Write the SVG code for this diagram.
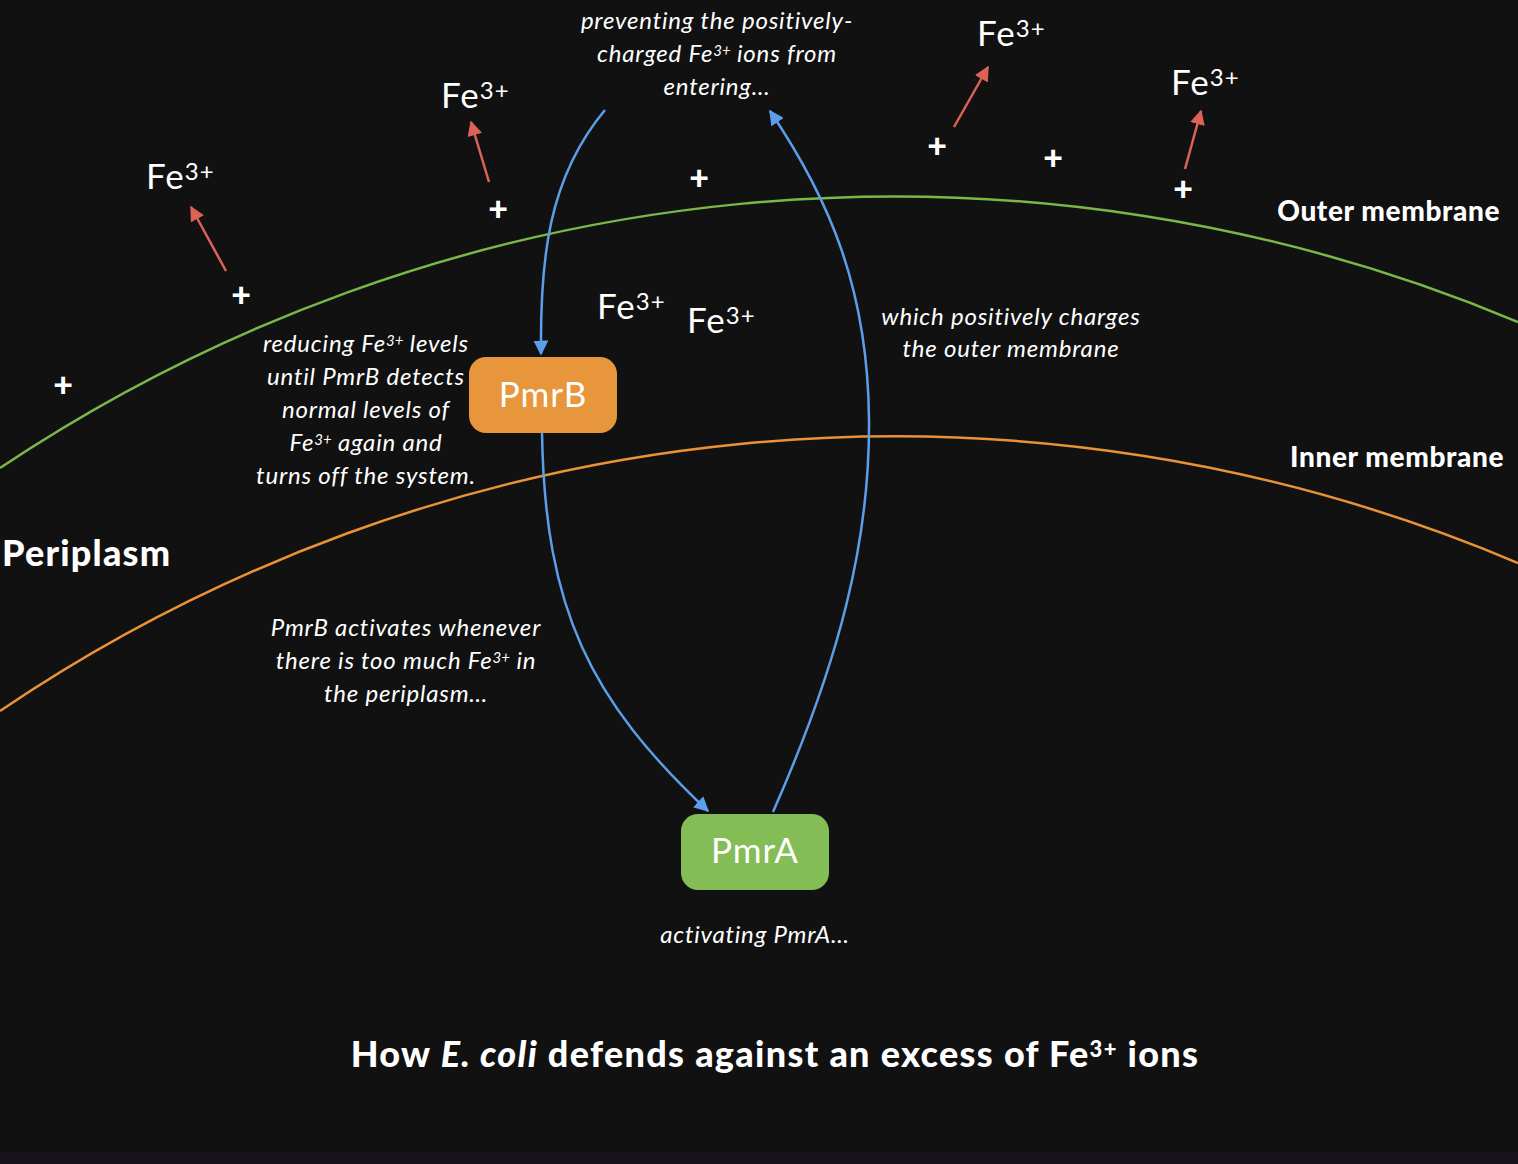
<svg xmlns="http://www.w3.org/2000/svg" width="1518" height="1164" viewBox="0 0 1518 1164">
<style>
.bg{fill:#111111}
.mem{fill:none;stroke-width:2.5}
.note{font-family:Lato,"Noto Sans",sans-serif;font-style:italic;font-size:24px;letter-spacing:0.8px;fill:#ffffff;text-anchor:middle}
.sup{font-size:15px;letter-spacing:0}
.fe{font-family:Lato,"Noto Sans",sans-serif;font-size:35px;letter-spacing:1px;fill:#ffffff}
.fesup{font-size:24px}
.plus{font-family:Lato,"Noto Sans",sans-serif;font-weight:900;font-size:34px;fill:#ffffff;text-anchor:middle}
.lbl{font-family:Lato,"Noto Sans",sans-serif;font-weight:900;font-size:28px;letter-spacing:0.6px;fill:#ffffff}
.big{font-size:36px;letter-spacing:1.2px}
.title{font-size:36px;letter-spacing:1.3px}
.node text{font-family:Lato,"Noto Sans",sans-serif;font-size:35px;letter-spacing:1px;fill:#ffffff;text-anchor:middle}
.blue{fill:none;stroke:#5b9ee9;stroke-width:2.5;marker-end:url(#ab)}
.red{fill:none;stroke:#dc6257;stroke-width:2.5;marker-end:url(#ar)}
</style>
<defs>
<marker id="ab" viewBox="0 0 10 10" refX="9" refY="5" markerWidth="6" markerHeight="6" orient="auto" markerUnits="strokeWidth"><path d="M0,0 L10,5 L0,10 z" fill="#5b9ee9"/></marker>
<marker id="ar" viewBox="0 0 10 10" refX="9" refY="5" markerWidth="6" markerHeight="6" orient="auto" markerUnits="strokeWidth"><path d="M0,0 L10,5 L0,10 z" fill="#dc6257"/></marker>
</defs>
<rect class="bg" x="0" y="0" width="1518" height="1164"/>
<rect x="0" y="1152" width="1518" height="12" fill="#16131c"/>

<g id="membranes">
<path class="mem" stroke="#7ab648" d="M0 468 A1610 1610 0 0 1 1518 322"/>
<path class="mem" stroke="#ea9236" d="M0 711 A1596 1596 0 0 1 1518 563"/>
</g>

<g id="connectors">
<path class="blue" d="M605 110 C548 178 540 260 541 354"/>
<path class="blue" d="M542 433 C545 610 590 700 708 811"/>
<path class="blue" d="M773 812 C840 660 870 540 869 420 C868 290 830 200 770 111"/>
<path class="red" d="M226 271 L191 207"/>
<path class="red" d="M489 182 L471 122"/>
<path class="red" d="M954 127 L988 67"/>
<path class="red" d="M1185 169 L1201 111"/>
</g>

<g id="charges">
<text class="plus" x="241" y="307">+</text>
<text class="plus" x="498" y="221">+</text>
<text class="plus" x="699" y="190">+</text>
<text class="plus" x="937" y="158">+</text>
<text class="plus" x="1053" y="170">+</text>
<text class="plus" x="1183" y="201">+</text>
<text class="plus" x="63" y="397">+</text>
</g>

<g id="ions">
<text class="fe" x="146" y="189">Fe<tspan class="fesup" dy="-9">3+</tspan></text>
<text class="fe" x="441" y="108">Fe<tspan class="fesup" dy="-9">3+</tspan></text>
<text class="fe" x="977" y="46">Fe<tspan class="fesup" dy="-9">3+</tspan></text>
<text class="fe" x="1171" y="95">Fe<tspan class="fesup" dy="-9">3+</tspan></text>
<text class="fe" x="597" y="319">Fe<tspan class="fesup" dy="-9">3+</tspan></text>
<text class="fe" x="687" y="333">Fe<tspan class="fesup" dy="-9">3+</tspan></text>
</g>

<g id="node-pmrb" class="node">
<rect x="469" y="357" width="148" height="76" rx="17" fill="#e8963b"/>
<text x="543" y="407">PmrB</text>
</g>
<g id="node-pmra" class="node">
<rect x="681" y="814" width="148" height="76" rx="17" fill="#84bc56"/>
<text x="755" y="863">PmrA</text>
</g>

<g id="notes">
<text class="note" x="717" y="29">preventing the positively-</text>
<text class="note" x="717" y="62">charged Fe<tspan class="sup" dy="-6">3+</tspan><tspan dy="6"> ions from</tspan></text>
<text class="note" x="717" y="95">entering…</text>

<text class="note" x="366" y="352">reducing Fe<tspan class="sup" dy="-6">3+</tspan><tspan dy="6"> levels</tspan></text>
<text class="note" x="366" y="385">until PmrB detects</text>
<text class="note" x="366" y="418">normal levels of</text>
<text class="note" x="366" y="451">Fe<tspan class="sup" dy="-6">3+</tspan><tspan dy="6"> again and</tspan></text>
<text class="note" x="366" y="484">turns off the system.</text>

<text class="note" x="1011" y="325">which positively charges</text>
<text class="note" x="1011" y="357">the outer membrane</text>

<text class="note" x="406" y="636">PmrB activates whenever</text>
<text class="note" x="406" y="669">there is too much Fe<tspan class="sup" dy="-6">3+</tspan><tspan dy="6"> in</tspan></text>
<text class="note" x="406" y="702">the periplasm…</text>

<text class="note" x="755" y="943">activating PmrA…</text>
</g>

<g id="labels">
<text class="lbl" x="1500" y="221" text-anchor="end">Outer membrane</text>
<text class="lbl" x="1504" y="467" text-anchor="end">Inner membrane</text>
<text class="lbl big" x="2" y="566">Periplasm</text>
<text class="lbl title" x="775" y="1067" text-anchor="middle">How <tspan font-style="italic">E. coli</tspan> defends against an excess of Fe<tspan font-size="22" dy="-10">3+</tspan><tspan dy="10"> ions</tspan></text>
</g>
</svg>
